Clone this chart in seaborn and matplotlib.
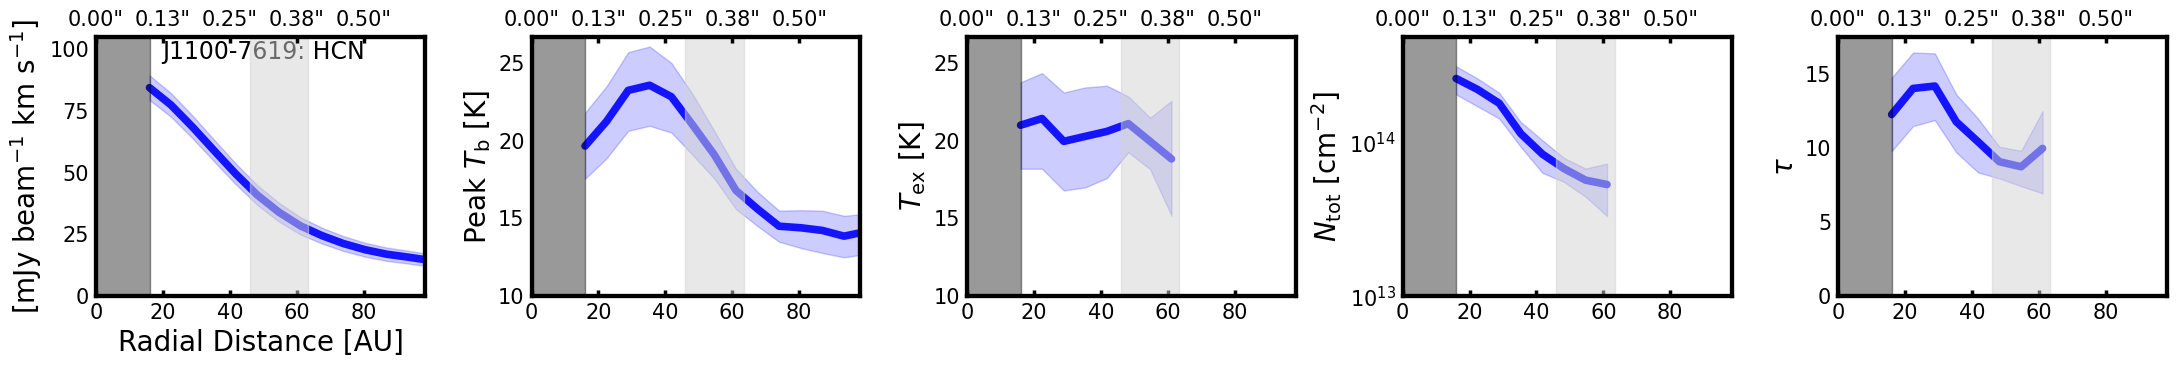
import numpy as np
import pandas as pd
import matplotlib
matplotlib.use("Agg")
import matplotlib.pyplot as plt
import seaborn as sns

# ---------------- data ----------------
r_au = [16.0, 22.4, 28.9, 35.3, 41.8, 48.2, 54.7, 61.1, 67.6, 74.0, 80.5, 86.9, 93.4, 99.8]

mom0 = [84.5, 77.5, 68.5, 59.0, 49.5, 41.0, 34.0, 28.5, 24.5, 21.3, 18.8, 17.0, 15.8, 14.5]
mom0_err = [5.0, 4.8, 4.6, 4.4, 4.2, 4.0, 3.8, 3.5, 3.2, 3.0, 2.8, 2.7, 2.6, 2.5]

tb = [19.66, 21.24, 23.24, 23.57, 22.83, 21.0, 19.07, 16.8, 15.6, 14.5, 14.4, 14.23, 13.86, 14.15]
tb_hi = [21.8, 23.5, 25.7, 26.06, 25.0, 22.98, 20.6, 18.2, 16.7, 15.5, 15.53, 15.5, 15.17, 15.3]
tb_lo = [17.55, 18.86, 20.64, 20.96, 20.53, 19.07, 17.55, 15.6, 14.5, 13.5, 13.1, 12.78, 12.5, 12.7]

tex = [21.0, 21.43, 19.96, 20.28, 20.6, 21.1, 19.96, 18.83]
tex_hi = [23.76, 24.35, 23.1, 23.43, 23.54, 22.85, 21.48, 22.57]
tex_lo = [18.2, 18.2, 16.8, 17.0, 17.6, 19.26, 18.17, 15.17]

ntot = [2.63e14, 2.23e14, 1.81e14, 1.15e14, 8.44e13, 6.8e13, 5.71e13, 5.35e13]
ntot_hi = [3.16e14, 2.63e14, 2.12e14, 1.37e14, 1.04e14, 7.98e13, 6.8e13, 7.33e13]
ntot_lo = [2.07e14, 1.73e14, 1.44e14, 9.42e13, 6.37e13, 5.57e13, 4.45e13, 3.33e13]

tau = [12.27, 14.03, 14.19, 11.78, 10.43, 9.08, 8.74, 9.98]
tau_hi = [14.75, 16.46, 16.4, 13.63, 12.0, 10.09, 9.82, 12.5]
tau_lo = [9.8, 11.49, 11.89, 9.71, 8.36, 7.95, 7.43, 6.94]

bottom_ticks = [0, 20, 40, 60, 80]
top_labels = ['0.00"', '0.13"', '0.25"', '0.38"', '0.50"']

inner_gap = (0.0, 16.1)
ring_gap = (45.9, 63.35)

title_text = "J1100-7619: HCN"
ylabels = [r"[mJy beam$^{-1}$ km s$^{-1}$]", r"Peak $T_{\rm b}$ [K]",
           r"$T_{\rm ex}$ [K]", r"$N_{\rm tot}$ [cm$^{-2}$]", r"$\tau$"]

# ---------------- style ----------------
sns.set_style("white")
plt.rcParams["font.family"] = ["DejaVu Sans"]
plt.rcParams["mathtext.fontset"] = "dejavusans"
for key in ["text.color", "axes.labelcolor", "xtick.color", "ytick.color", "axes.edgecolor"]:
    plt.rcParams[key] = "black"

fig, axes = plt.subplots(1, 5, figsize=(21.76, 3.67), dpi=100)
fig.subplots_adjust(left=0.0441, right=0.9959, bottom=0.193, top=0.899, wspace=0.324)

n_b = len(tex)
panels = [
    (r_au, mom0, [m + e for m, e in zip(mom0, mom0_err)], [m - e for m, e in zip(mom0, mom0_err)], (0, 105), "linear", 25),
    (r_au, tb, tb_hi, tb_lo, (10, 26.67), "linear", 5),
    (r_au[:n_b], tex, tex_hi, tex_lo, (10, 26.67), "linear", 5),
    (r_au[:n_b], ntot, ntot_hi, ntot_lo, (1e13, 4.9e14), "log", None),
    (r_au[:n_b], tau, tau_hi, tau_lo, (0, 17.5), "linear", 5),
]

for i, (ax, (x, y, hi, lo, ylim, scale, step)) in enumerate(zip(axes, panels)):
    df = pd.DataFrame({"r": x, "v": y})
    ax.set_yscale(scale)
    ax.fill_between(x, lo, hi, color="blue", alpha=0.2, zorder=1)
    sns.lineplot(data=df, x="r", y="v", ax=ax, color="blue", lw=5.5, alpha=0.9, zorder=2)
    ax.axvspan(*inner_gap, color="k", alpha=0.4, zorder=5)
    ax.axvspan(*ring_gap, color="lightgray", alpha=0.5, zorder=5)
    ax.set_xlim(0, 98.3)
    ax.set_ylim(*ylim)
    ax.set_xticks(bottom_ticks)
    ax.set_ylabel(ylabels[i], fontsize=20)
    ax.set_xlabel("")
    for sp in ax.spines.values():
        sp.set_linewidth(3)
        sp.set_zorder(6)
    ax.tick_params(axis="both", which="major", direction="in", length=4, width=2.5,
                   labelsize=15, pad=5, top=False, right=False)
    ax.tick_params(axis="both", which="minor", direction="in", length=3, width=2,
                   top=False, right=False)
    if step is not None:
        ax.yaxis.set_major_locator(matplotlib.ticker.MultipleLocator(step))
    ax2 = ax.twiny()
    ax2.set_xlim(ax.get_xlim())
    ax2.set_xticks(bottom_ticks)
    ax2.set_xticklabels(top_labels)
    ax2.tick_params(axis="x", direction="in", length=4, width=2.5, labelsize=15, pad=5)
    for sp in ax2.spines.values():
        sp.set_linewidth(3)
    if i == 0:
        ax.set_xlabel("Radial Distance [AU]", fontsize=20)
        ax.text(0.2, 0.99, title_text, transform=ax.transAxes, ha="left", va="top",
                fontsize=17, zorder=4)

fig.savefig("out.png", dpi=100)
